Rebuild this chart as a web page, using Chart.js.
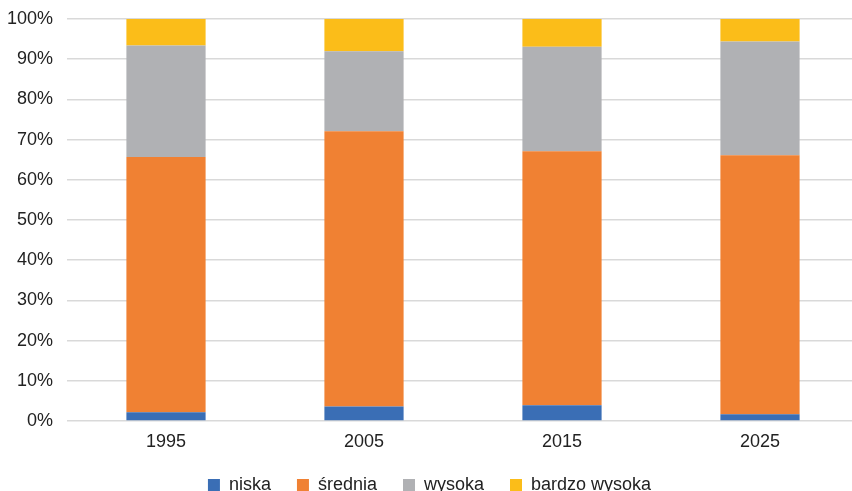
<!DOCTYPE html>
<html>
<head>
<meta charset="utf-8">
<script src="https://cdn.jsdelivr.net/npm/chart.js@4"></script>
<style>
  html, body { margin: 0; padding: 0; background: #ffffff; overflow: hidden; }
  #wrap { width: 852px; height: 491px; overflow: hidden; }
  canvas { display: block; }
</style>
</head>
<body>
<div id="wrap"><canvas id="c" width="860" height="491"></canvas></div>
<script>
// Share of each level per year (percent)
const years = ['1995', '2005', '2015', '2025'];
const niska = [2.2, 3.6, 3.9, 1.7];
const srednia = [63.5, 68.5, 63.2, 64.4];
const wysoka = [27.7, 19.9, 26.0, 28.3];
const bardzoWysoka = [6.6, 8.0, 6.9, 5.6];
const yTicks = [0, 10, 20, 30, 40, 50, 60, 70, 80, 90, 100];

const FONT = "'Liberation Sans', Arial, sans-serif";

const seriesDefs = [
  { label: 'niska', data: niska, color: '#3A6EB5' },
  { label: 'średnia', data: srednia, color: '#F08133' },
  { label: 'wysoka', data: wysoka, color: '#B0B1B4' },
  { label: 'bardzo wysoka', data: bardzoWysoka, color: '#FBBD19' }
];

new Chart(document.getElementById('c'), {
  type: 'bar',
  data: {
    labels: years,
    datasets: seriesDefs.map(s => ({
      label: s.label,
      data: s.data,
      backgroundColor: s.color,
      borderWidth: 0,
      barPercentage: 0.4,
      categoryPercentage: 1.0
    }))
  },
  options: {
    responsive: false,
    animation: false,
    devicePixelRatio: 1,
    layout: { padding: { top: 19, right: 1, left: 0, bottom: -13 } },
    plugins: {
      tooltip: { enabled: false },
      legend: {
        position: 'bottom',
        labels: {
          font: { family: FONT, size: 18 },
          color: '#222222',
          boxWidth: 12,
          boxHeight: 12,
          padding: 26
        }
      }
    },
    scales: {
      x: {
        stacked: true,
        grid: { display: false, drawTicks: false },
        border: { display: false },
        ticks: { font: { family: FONT, size: 18 }, color: '#222222', padding: 10 },
        afterFit: s => { s.height = 29; }
      },
      y: {
        stacked: true,
        min: 0,
        max: 100,
        afterBuildTicks: s => { s.ticks = yTicks.map(v => ({ value: v })); },
        grid: { color: '#D9D9D9', lineWidth: 1.5, drawTicks: false },
        border: { display: false },
        ticks: {
          font: { family: FONT, size: 18 },
          color: '#222222',
          padding: 14,
          callback: v => v + '%'
        },
        afterFit: s => { s.width = 67; s.paddingTop = 0; s.paddingBottom = 0; }
      }
    }
  }
});
</script>
</body>
</html>
